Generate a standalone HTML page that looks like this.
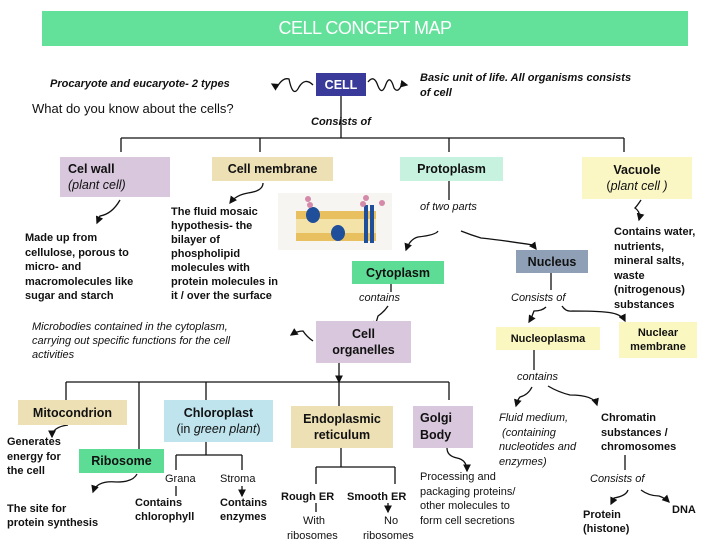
<!DOCTYPE html>
<html><head><meta charset="utf-8"><style>
body{margin:0;width:728px;height:546px;background:#fff;position:relative;overflow:hidden;font-family:"Liberation Sans",Arial,sans-serif;color:#111}
.a{position:absolute;white-space:nowrap}
.b{font-weight:bold}
.i{font-style:italic}
.s11{font-size:11px;line-height:14.5px}
.box{position:absolute;display:flex;flex-direction:column;align-items:center;justify-content:center;text-align:center;font-weight:bold;font-size:12.5px;line-height:16px;white-space:nowrap}
svg{position:absolute;left:0;top:0}
</style></head><body>
<div class="a" style="left:42px;top:11px;width:646px;height:35px;background:#63e09a;color:#fff;font-size:18px;line-height:35px;text-align:center;letter-spacing:-0.5px">CELL CONCEPT MAP</div>

<svg width="728" height="546" viewBox="0 0 728 546" fill="none" stroke="#111" stroke-width="1.3">
<defs><marker id="m" markerWidth="6" markerHeight="6" refX="5" refY="3" orient="auto"><path d="M0,0L6,3L0,6z" fill="#111" stroke="none"/></marker></defs>
<path d="M313,85 q-8,-8 -14,2 q-6,12 -10,-8 q-6,-2 -12,8 l-5,-3" marker-end="url(#m)"/>
<path d="M368,82 q6,-8 10,4 q4,10 8,-2 q4,-10 8,4 q4,6 8,-4 l5,1" marker-end="url(#m)"/>
<path d="M341,96V138M121,138H624M121,138V152M260,138V152M449,138V152M624,138V152"/>
<path d="M120,200 q-8,14 -20,16 l-3,7" marker-end="url(#m)"/>
<path d="M263,183 q0,8 -15,10 q-12,2 -18,10" marker-end="url(#m)"/>
<path d="M449,181V200"/>
<path d="M438,231 q-2,4 -20,6 q-8,2 -12,13" marker-end="url(#m)"/>
<path d="M461,231 q10,4 20,7 q20,2 52,7 l3,4" marker-end="url(#m)"/>
<path d="M641,200 q-4,6 -6,8 q6,4 4,12" marker-end="url(#m)"/>
<path d="M391,284V292M551,273V290"/>
<path d="M388,306 q-4,6 -10,10 q-2,8 -5,12" marker-end="url(#m)"/>
<path d="M313,341 q-6,-4 -10,-10 q-6,0 -12,4" marker-end="url(#m)"/>
<path d="M546,307 q-4,4 -12,4 q-2,6 -5,11" marker-end="url(#m)"/>
<path d="M562,306 q4,6 10,5 q30,0 40,2 q10,2 13,8" marker-end="url(#m)"/>
<path d="M339,363V382" marker-end="url(#m)"/>
<path d="M66,382H449M66,382V400M139,382V449M206,382V400M339,382V406M449,382V400"/>
<path d="M68,425 q-16,2 -16,12" marker-end="url(#m)"/>
<path d="M137,474 q-4,8 -20,8 q-20,-2 -24,10" marker-end="url(#m)"/>
<path d="M206,442V455M176,455H242M176,455V470M242,455V470"/>
<path d="M176,486V496M242,486V496" marker-end="url(#m)"/>
<path d="M341,448V467M316,467H395M316,467V484M395,467V484"/>
<path d="M316,503V512M388,503V512" marker-end="url(#m)"/>
<path d="M447,448 q0,8 10,10 q10,2 10,13" marker-end="url(#m)"/>
<path d="M534,350V370"/>
<path d="M532,387 q-4,8 -12,10 q-2,2 -4,9" marker-end="url(#m)"/>
<path d="M548,386 q10,6 22,9 q24,0 27,10" marker-end="url(#m)"/>
<path d="M625,455V470"/>
<path d="M628,490 q-2,6 -14,8 l-3,6" marker-end="url(#m)"/>
<path d="M641,490 q8,6 18,6 q6,2 10,6" marker-end="url(#m)"/>
</svg>

<div class="box" style="left:316px;top:73px;width:50px;height:23px;background:#3a3a9a;color:#fff">CELL</div>
<div class="a b i s11" style="left:50px;top:77px">Procaryote and eucaryote- 2 types</div>
<div class="a" style="left:32px;top:101px;font-size:13px">What do you know about the cells?</div>
<div class="a b i s11" style="left:420px;top:71px">Basic unit of life. All organisms consists<br>of cell</div>
<div class="a b i s11" style="left:311px;top:115px">Consists of</div>

<div class="a" style="left:60px;top:157px;width:110px;height:40px;background:#d8c7dd"></div>
<div class="a b" style="left:68px;top:161px;font-size:12.5px;line-height:16px">Cel wall<br><span style="font-weight:normal" class="i">(plant cell)</span></div>
<div class="box" style="left:212px;top:157px;width:121px;height:24px;background:#ede0b5">Cell membrane</div>
<div class="box" style="left:400px;top:157px;width:103px;height:24px;background:#c7f2e0">Protoplasm</div>
<div class="box" style="left:582px;top:157px;width:110px;height:42px;background:#fbf7c5"><div>Vacuole</div><div style="font-weight:normal">(<i>plant cell )</i></div></div>

<div class="a b s11" style="left:25px;top:231px">Made up from<br>cellulose, porous to<br>micro- and<br>macromolecules like<br>sugar and starch</div>
<div class="a b s11" style="left:171px;top:205px;line-height:14px">The fluid mosaic<br>hypothesis- the<br>bilayer of<br>phospholipid<br>molecules  with<br>protein molecules in<br>it / over the surface</div>

<svg style="left:278px;top:193px" width="114" height="57" viewBox="0 0 114 57">
<rect width="114" height="57" fill="#f6f5f2"/>
<rect x="18" y="18" width="80" height="8" fill="#e8c060"/>
<rect x="18" y="26" width="80" height="14" fill="#f3e3a8"/>
<rect x="18" y="40" width="80" height="8" fill="#e8c060"/>
<ellipse cx="35" cy="22" rx="7" ry="8" fill="#1f4f9a"/>
<ellipse cx="60" cy="40" rx="7" ry="8" fill="#1f4f9a"/>
<rect x="86" y="12" width="4" height="38" fill="#1f4f9a"/><rect x="92" y="12" width="4" height="38" fill="#1f4f9a"/>
<circle cx="30" cy="6" r="3" fill="#d48aa8"/><circle cx="32" cy="12" r="3" fill="#d48aa8"/><circle cx="88" cy="5" r="3" fill="#d48aa8"/><circle cx="85" cy="11" r="3" fill="#d48aa8"/><circle cx="104" cy="10" r="3" fill="#d48aa8"/>
</svg>

<div class="a i s11" style="left:420px;top:200px">of two parts</div>
<div class="a b s11" style="left:614px;top:225px">Contains water,<br>nutrients,<br>mineral salts,<br>waste<br>(nitrogenous)<br>substances</div>
<div class="box" style="left:352px;top:261px;width:92px;height:23px;background:#5ddc96">Cytoplasm</div>
<div class="box" style="left:516px;top:250px;width:72px;height:23px;background:#8fa0b6">Nucleus</div>
<div class="a i s11" style="left:359px;top:291px">contains</div>
<div class="a i s11" style="left:511px;top:291px">Consists of</div>
<div class="a i s11" style="left:32px;top:320px;line-height:14px">Microbodies contained in the cytoplasm,<br>carrying out specific functions for the cell<br>activities</div>
<div class="box" style="left:316px;top:321px;width:95px;height:42px;background:#d8c7dd"><div>Cell</div><div>organelles</div></div>
<div class="box" style="left:496px;top:327px;width:104px;height:23px;background:#fbf7c0;font-size:11px">Nucleoplasma</div>
<div class="box" style="left:619px;top:322px;width:78px;height:36px;background:#fbf7c0;font-size:11px;line-height:14px"><div>Nuclear</div><div>membrane</div></div>
<div class="a i s11" style="left:517px;top:370px">contains</div>

<div class="box" style="left:18px;top:400px;width:109px;height:25px;background:#ede0b5">Mitocondrion</div>
<div class="box" style="left:164px;top:400px;width:109px;height:42px;background:#bfe4ee"><div>Chloroplast</div><div style="font-weight:normal">(in <i>green plant</i>)</div></div>
<div class="box" style="left:291px;top:406px;width:102px;height:42px;background:#ede0b5"><div>Endoplasmic</div><div>reticulum</div></div>
<div class="a" style="left:413px;top:406px;width:60px;height:42px;background:#d8c7dd"></div>
<div class="a b" style="left:420px;top:410px;font-size:12.5px;line-height:17px">Golgi<br>Body</div>
<div class="box" style="left:79px;top:449px;width:85px;height:24px;background:#5ddc96">Ribosome</div>
<div class="a b s11" style="left:7px;top:435px">Generates<br>energy for<br>the cell</div>
<div class="a b s11" style="left:7px;top:502px;line-height:14px">The site for<br>protein synthesis</div>
<div class="a s11" style="left:165px;top:472px">Grana</div>
<div class="a s11" style="left:220px;top:472px">Stroma</div>
<div class="a b s11" style="left:135px;top:496px;line-height:14px">Contains<br>chlorophyll</div>
<div class="a b s11" style="left:220px;top:496px;line-height:14px">Contains<br>enzymes</div>
<div class="a b s11" style="left:281px;top:490px">Rough ER</div>
<div class="a b s11" style="left:347px;top:490px">Smooth ER</div>
<div class="a s11" style="left:303px;top:514px">With</div>
<div class="a s11" style="left:287px;top:529px">ribosomes</div>
<div class="a s11" style="left:384px;top:514px">No</div>
<div class="a s11" style="left:363px;top:529px">ribosomes</div>
<div class="a s11" style="left:420px;top:470px">Processing and<br>packaging proteins/<br>other molecules to<br>form cell secretions</div>
<div class="a i s11" style="left:499px;top:411px">Fluid medium,<br>&nbsp;(containing<br>nucleotides and<br>enzymes)</div>
<div class="a b s11" style="left:601px;top:411px">Chromatin<br>substances /<br>chromosomes</div>
<div class="a i s11" style="left:590px;top:472px">Consists of</div>
<div class="a b s11" style="left:672px;top:503px">DNA</div>
<div class="a b s11" style="left:583px;top:508px;line-height:14px">Protein<br>(histone)</div>
</body></html>
